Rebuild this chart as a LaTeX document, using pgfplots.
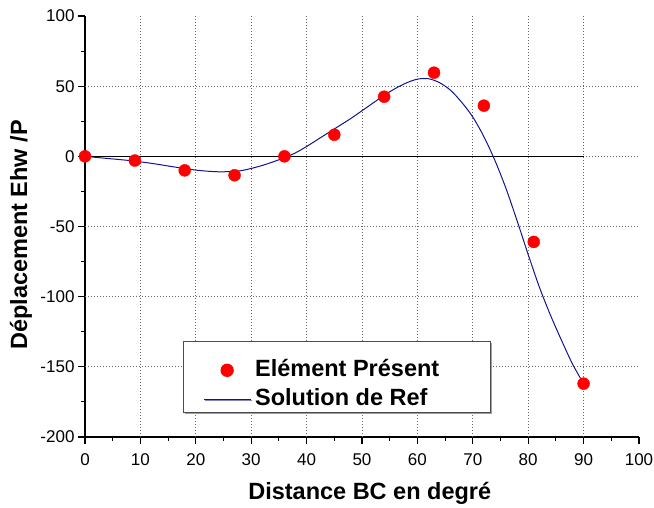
\documentclass[border=0pt]{standalone}
\usepackage{pgfplots}
\pgfplotsset{compat=1.18}
\usepackage{fontspec}
\setmainfont{Liberation Sans}
\usetikzlibrary{shadows}
\definecolor{curveblue}{RGB}{20,20,140}
\begin{document}
\begin{tikzpicture}
\begin{axis}[
  at={(0pt,0pt)}, anchor=south west,
  width=554pt, height=421pt, scale only axis,
  xmin=0, xmax=100, ymin=-200, ymax=100,
  axis x line*=bottom, axis y line*=left,
  axis line style={-, line width=1.3pt},
  xtick={0,10,...,100}, ytick={-200,-150,...,100},
  minor x tick num=1, minor y tick num=1,
  tick align=outside,
  major tick length=7pt, minor tick length=4pt,
  every tick/.style={black, line width=1.1pt},
  /pgf/number format/assume math mode=true,
  ticklabel style={font=\fontsize{17}{20}\selectfont},
  xticklabel style={yshift=-6pt},
  xlabel={Distance BC en degré},
  ylabel={Déplacement Ehw /P},
  label style={font=\fontsize{23.5}{27}\selectfont\bfseries},
  xlabel style={at={(axis description cs:0.514,-0.133)}, anchor=center},
  ylabel style={at={(axis description cs:-0.1155,0.48)}, anchor=center, rotate=0},
  legend style={at={(axis description cs:0.176,0.2288)}, anchor=north west,
    draw=black!70, line width=1.3pt, fill=white,
    drop shadow={shadow xshift=1.5pt, shadow yshift=-1.5pt, fill=black!75},
    inner xsep=20pt, inner ysep=6.5pt, row sep=0pt, column sep=4pt,
    nodes={font=\fontsize{23.5}{27}\selectfont\bfseries, inner sep=0pt, text height=28.8pt, text depth=0.2pt},
  },
  legend cell align=left,
  legend image code/.code={\draw[mark repeat=2,mark phase=2,#1] plot coordinates {(0pt,-8pt) (23.5pt,-8pt) (47pt,-8pt)};},
  clip=false,
]
\pgfplotsinvokeforeach{10,20,...,90}{
  \draw[black!60, line width=0.9pt, dash pattern=on 1pt off 2pt] (axis cs:#1,-200) -- (axis cs:#1,100);
}
\pgfplotsinvokeforeach{-150,-100,...,50}{
  \draw[black!60, line width=0.9pt, dash pattern=on 1pt off 2pt] (axis cs:0,#1) -- (axis cs:100,#1);
}
\addplot[black, line width=1.2pt, forget plot] coordinates {(0,0) (90,0)};
\addplot[only marks, mark=*, mark size=6pt, color=red, draw=red, fill=red] coordinates {
(0,0) (9,-3) (18,-10) (27,-13.5) (36,0) (45,15.4) (54,42.5) (63,59.6) (72,36.1) (81,-61) (90,-162)
};
\addlegendentry{Elément Présent\hspace*{31pt}}
\addplot[curveblue, line width=1pt, smooth, tension=0.5] coordinates {
(0,0) (4,-1.5) (8,-3) (12,-5) (16,-7.5) (20,-9.8) (24,-11) (28,-10.3) (32,-6.5) (36,-1)
(38,2.5) (40,7) (42,12) (44,17) (46,22) (48,27) (50,32.5) (52,38) (54,43.5) (56,48.3) (58,52.3) (60,55) (62,55.3) (64,52.5) (66,47)
(68,38.5) (70,28) (72,14) (74,-3) (76,-23) (78,-46) (80,-70) (82,-93) (84,-113) (86,-131) (88,-148) (90,-162)
};
\addlegendentry{Solution de Ref}
\end{axis}
\pgfresetboundingbox
\path[use as bounding box] (-85pt,-71pt) rectangle (569pt,437pt);
\end{tikzpicture}
\end{document}
